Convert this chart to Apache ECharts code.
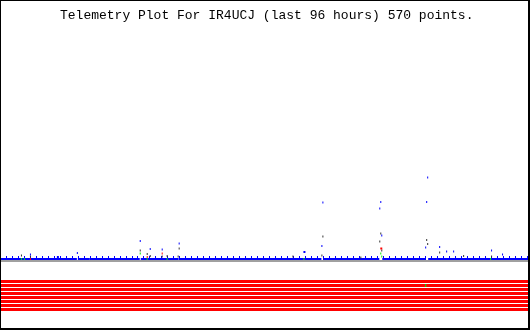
<!DOCTYPE html>
<html>
<head>
<meta charset="utf-8">
<script src="https://cdn.jsdelivr.net/npm/echarts@6/dist/echarts.min.js"></script>
<style>
html,body{margin:0;padding:0;background:#fff;}
#chart{width:530px;height:330px;}
</style>
</head>
<body>
<div id="chart"></div>
<script>
// ---- data (x in hours over the last 96 hours, y in raw telemetry units) ----
const titleText = "Telemetry Plot For IR4UCJ (last 96 hours) 570 points.";
const hourRange = [0, 96];
const tickStep = 1.08885;          // hours between the small blue ticks
const baselineLevel = 2;
// stretches of the blue baseline (hours); gaps are where samples jumped up
const baselineSegments = [[0, 13.974], [14.155, 16.333], [16.514, 25.407], [25.588, 32.484],
  [32.666, 58.435], [58.798, 68.961], [69.505, 77.308], [77.853, 96]];
const blueDots = [[5.535, 6.5], [14.064, 8], [25.497, 20], [27.312, 12], [29.490, 11.5], [32.575, 17.5],
  [58.707, 58.5], [58.526, 15], [69.233, 59], [69.052, 52.5], [69.414, 25.5], [77.762, 83.5],
  [77.581, 59], [77.399, 13.5], [79.940, 14], [81.210, 9.5], [82.480, 9.5], [89.376, 10.5], [91.373, 6.5]];
const blueBigDots = [[10.525, 4], [55.350, 9]];
const grayDots = [[3.902, 5.5], [5.535, 4.5], [25.497, 10.5], [26.767, 7], [27.312, 5], [29.490, 4.5],
  [30.397, 5], [32.393, 4.5], [32.575, 12.5], [53.263, 4.5], [58.707, 24.5], [58.526, 5.5], [65.603, 3.5],
  [69.233, 27.5], [69.052, 19.5], [69.414, 10.5], [77.581, 21], [77.762, 17], [79.940, 8.5], [84.295, 5], [89.376, 4.5]];
const greenDots = [[3.902, 2], [4.446, 2], [25.497, 7.5], [26.767, 2], [30.397, 2], [69.233, 7.5],
  [69.414, 4.5], [89.195, 2], [55.259, 2]];
const redDots = [[5.535, 2], [26.767, 4], [29.490, 7.5]];
const redBigDots = [[69.324, 12.5]];
const redLevels = [29.5, 25.5, 21.5, 17.5, 13.5, 9.5, 5.5, 1.5];
const bandGreenDots = [[77.399, 25.5]];

// ---- build ----
const blueLineData = [];
baselineSegments.forEach(function (seg, i) {
  if (i > 0) blueLineData.push([seg[0], '-']);
  blueLineData.push([seg[0], baselineLevel]);
  blueLineData.push([seg[1], baselineLevel]);
});

function dots(data, color, size, z) {
  return {
    type: 'scatter', xAxisIndex: 0, yAxisIndex: 0, data: data,
    symbol: 'rect', symbolSize: size, itemStyle: { color: color, opacity: 1 },
    silent: true, z: z, animation: false
  };
}

const series = [];
series.push({
  type: 'line', xAxisIndex: 0, yAxisIndex: 0, data: blueLineData,
  showSymbol: false, connectNulls: false, silent: true, animation: false,
  lineStyle: { color: '#0000ff', width: 2 }, z: 2
});
redLevels.forEach(function (lvl) {
  series.push({
    type: 'line', xAxisIndex: 2, yAxisIndex: 1, data: [[hourRange[0], lvl], [hourRange[1], lvl]],
    showSymbol: false, silent: true, animation: false,
    lineStyle: { color: '#ff0000', width: 3 }, z: 2
  });
});
series.push(dots(grayDots, '#333333', [1, 2], 3));
series.push(dots(greenDots, '#00ee00', [1, 2], 4));
series.push(dots(redDots, '#ff0000', [1, 2], 5));
series.push(dots(redBigDots, '#ff0000', [2, 2], 5));
series.push(dots(blueDots, '#0000ff', [1, 2], 6));
series.push(dots(blueBigDots, '#0000ff', [2, 2], 6));
series.push({
  type: 'scatter', xAxisIndex: 2, yAxisIndex: 1, data: bandGreenDots,
  symbol: 'rect', symbolSize: [1, 3], itemStyle: { color: '#00ee00', opacity: 1 },
  silent: true, z: 6, animation: false
});

const hidden = { axisLine: { show: false }, axisTick: { show: false }, axisLabel: { show: false }, splitLine: { show: false } };

const option = {
  backgroundColor: '#ffffff',
  animation: false,
  title: {
    text: titleText, left: 60, top: 9, padding: 0,
    textStyle: { fontFamily: 'Liberation Mono', fontSize: 13, fontWeight: 'normal', color: '#000000' }
  },
  grid: [
    { left: -1, right: 2, top: 6, bottom: 69 },
    { left: -1, right: 2, top: 279, height: 32 }
  ],
  xAxis: [
    Object.assign({}, hidden, {
      gridIndex: 0, type: 'value', min: hourRange[0], max: hourRange[1], position: 'bottom', z: 1,
      axisLine: { show: true, onZero: false, lineStyle: { color: '#a0a0a0', width: 2 } }
    }),
    Object.assign({}, hidden, {
      gridIndex: 0, type: 'value', min: hourRange[0], max: hourRange[1], interval: tickStep,
      position: 'bottom', z: 0,
      axisTick: { show: true, inside: true, length: 5, lineStyle: { color: '#0000ff', width: 1 } }
    }),
    Object.assign({}, hidden, { gridIndex: 1, type: 'value', min: hourRange[0], max: hourRange[1] })
  ],
  yAxis: [
    Object.assign({}, hidden, { gridIndex: 0, type: 'value', min: 0, max: 255 }),
    Object.assign({}, hidden, { gridIndex: 1, type: 'value', min: 0, max: 32 })
  ],
  graphic: [
    { type: 'rect', shape: { x: 0, y: 0, width: 530, height: 1 }, style: { fill: '#000' }, z: 100 },
    { type: 'rect', shape: { x: 0, y: 0, width: 1, height: 330 }, style: { fill: '#000' }, z: 100 },
    { type: 'rect', shape: { x: 528, y: 0, width: 2, height: 330 }, style: { fill: '#000' }, z: 100 },
    { type: 'rect', shape: { x: 0, y: 328, width: 530, height: 2 }, style: { fill: '#000' }, z: 100 }
  ],
  series: series
};

const chart = echarts.init(document.getElementById('chart'), null, { renderer: 'canvas' });
chart.setOption(option);
</script>
</body>
</html>
